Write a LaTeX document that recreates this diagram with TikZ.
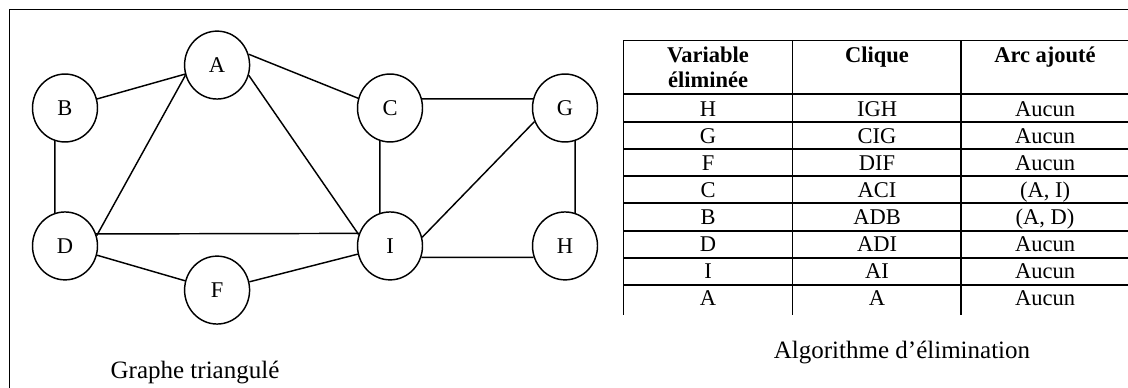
\documentclass[tikz,border=0pt]{standalone}
\usepackage{fontspec}
\setmainfont{Liberation Serif}
\usetikzlibrary{positioning}
\usetikzlibrary{shapes.geometric}
\tikzset{vertex/.style={ellipse,draw,line width=0.7pt,inner sep=0pt,minimum width=31.2pt,minimum height=32.6pt,font=\fontsize{10.8}{12.4}\selectfont}}
\tikzset{cell/.style={anchor=base,inner sep=0pt,font=\fontsize{10.8}{12.4}\selectfont}}
\tikzset{head/.style={anchor=base,inner sep=0pt,font=\fontsize{10.8}{12.4}\selectfont\bfseries}}
\tikzset{caption/.style={anchor=base,inner sep=0pt,font=\fontsize{12}{14}\selectfont}}
\tikzset{rule/.style={line width=0.9pt}}

\begin{document}
\begin{tikzpicture}[x=0.48pt,y=-0.48pt,on grid]
            \useasboundingbox (0,0) rectangle (1128,388);
            \clip (0,0) rectangle (1128,388);
            \draw[line width=0.65pt] (9.5,9.5) rectangle (1140,400);
            % graphe
            \node [vertex] (b) at (65,108) {B};
            \node [vertex,above right=20.6pt and 73pt of b] (a) {A};
            \node [vertex,right=156pt of b] (c) {C};
            \node [vertex,right=84pt of c] (g) {G};
            \node [vertex,below=66.2pt of b] (d) {D};
            \node [vertex,below=66.2pt of c] (i) {I};
            \node [vertex,below=66.2pt of g] (h) {H};
            \node [vertex,below=108pt of a] (f) {F};
            \draw[line width=0.7pt] (b) -- (a) (a.19) -- (c.163) (b.253) -- (d.107) (a.198) -- (d.18) (a.-18) -- (i.160);
            \draw[line width=0.7pt] (d.21.5) -- (i.158.5) (d) -- (f) -- (i) (c.16) -- (g.164) (c.253) -- (i.107);
            \draw[line width=0.7pt] (i.15) -- (g.204) (g.287) -- (h.73) (i.-20) -- (h.200);
            \node [caption] (capg) at (195,378) {Graphe triangulé};
            % tableau
            \draw[rule] (623.5,40.5) -- (1130,40.5);
            \draw[rule] (623.5,94) -- (1130,94) (623.5,121.7) -- (1130,121.7) (623.5,149) -- (1130,149) (623.5,176) -- (1130,176);
            \draw[rule] (623.5,203.3) -- (1130,203.3) (623.5,230.7) -- (1130,230.7) (623.5,257.7) -- (1130,257.7);
            \draw[line width=0.65pt] (623.5,285) -- (1130,285);
            \draw[rule] (623.5,40.5) -- (623.5,315.5) (792.5,40.5) -- (792.5,315.5) (961,40.5) -- (961,315.5);
            \node [head] (hv) at (708,63) {Variable};
            \node [head] (hve) at (708,88) {éliminée};
            \node [head] (hc) at (877,63) {Clique};
            \node [head] (ha) at (1045,63) {Arc ajouté};
            \node [cell] (r1a) at (708,116.5) {H}; \node [cell] (r1b) at (877,116.5) {IGH}; \node [cell] (r1c) at (1045,116.5) {Aucun};
            \node [cell] (r2a) at (708,143.7) {G}; \node [cell] (r2b) at (877,143.7) {CIG}; \node [cell] (r2c) at (1045,143.7) {Aucun};
            \node [cell] (r3a) at (708,170.8) {F}; \node [cell] (r3b) at (877,170.8) {DIF}; \node [cell] (r3c) at (1045,170.8) {Aucun};
            \node [cell] (r4a) at (708,197.6) {C}; \node [cell] (r4b) at (877,197.6) {ACI}; \node [cell] (r4c) at (1045,197.6) {(A, I)};
            \node [cell] (r5a) at (708,224.5) {B}; \node [cell] (r5b) at (877,224.5) {ADB}; \node [cell] (r5c) at (1045,224.5) {(A, D)};
            \node [cell] (r6a) at (708,251.8) {D}; \node [cell] (r6b) at (877,251.8) {ADI}; \node [cell] (r6c) at (1045,251.8) {Aucun};
            \node [cell] (r7a) at (708,279) {I}; \node [cell] (r7b) at (877,279) {AI}; \node [cell] (r7c) at (1045,279) {Aucun};
            \node [cell] (r8a) at (708,306) {A}; \node [cell] (r8b) at (877,306) {A}; \node [cell] (r8c) at (1045,306) {Aucun};
            \node [caption] (capt) at (902,358) {Algorithme d’élimination};
        \end{tikzpicture}
\end{document}
